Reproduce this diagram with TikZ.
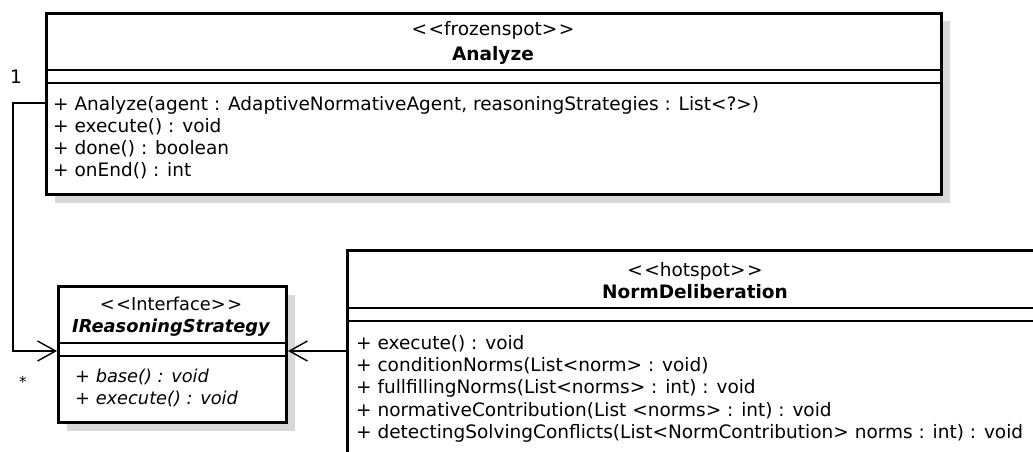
\documentclass[tikz,border=0pt]{standalone}
\usepackage{fontspec}
\setmainfont{DejaVu Sans}
\usetikzlibrary{arrows.meta,shadows}
\definecolor{shadowgray}{RGB}{216,216,216}
\newcommand\guil[1]{<\kern1.5pt<#1>\kern1.5pt>}
\tikzset{
  classbox/.style={draw=black, line width=3pt, fill=white, inner sep=0pt,
    anchor=north west,
    drop shadow={shadow xshift=8pt, shadow yshift=-8pt, fill=shadowgray, opacity=1}},
  sep/.style={line width=1.4pt},
  txt/.style={inner sep=0pt, font=\fontsize{18.5}{22}\selectfont},
  member/.style={txt, anchor=base west},
  caption/.style={txt, anchor=base},
  ifacetxt/.style={inner sep=0pt, font=\fontsize{17.8}{22}\selectfont},
  assoc/.style={line width=1.4pt,
    -{Straight Barb[length=18pt,width=20pt,line width=1.4pt]}},
  mult/.style={txt, anchor=center},
}
\begin{document}
\begin{tikzpicture}[x=1pt,y=-1pt]
\useasboundingbox (0,0) rectangle (1033,452);
\clip (0,0) rectangle (1033,452);

% class boxes
\node[classbox, minimum width=895pt, minimum height=181pt] (analyze) at (45,12) {};
\node[classbox, minimum width=228pt, minimum height=136pt] (irs) at (57,285) {};
\node[classbox, minimum width=700pt, minimum height=222pt] (nd) at (346,249) {};

% compartment separators
\foreach \y in {70,83} \draw[sep] (analyze.west |- 0,\y) -- (analyze.east |- 0,\y);
\foreach \y in {343,356} \draw[sep] (irs.west |- 0,\y) -- (irs.east |- 0,\y);
\foreach \y in {308,321} \draw[sep] (nd.west |- 0,\y) -- (nd.east |- 0,\y);

% Analyze
\node[caption] (an-st) at (493,36) {\guil{frozenspot}};
\node[caption, font=\fontsize{18.5}{22}\selectfont\bfseries] (an-nm) at (493,60) {Analyze};
\node[member] (an-m1) at (53,110) {+ Analyze(agent : AdaptiveNormativeAgent, reasoningStrategies : List<?>)};
\node[member] (an-m2) at (53,132) {+ execute() : void};
\node[member] (an-m3) at (53,154) {+ done() : boolean};
\node[member] (an-m4) at (53,176) {+ onEnd() : int};

% IReasoningStrategy
\node[ifacetxt, anchor=base] (ir-st) at (171,310) {\guil{Interface}};
\node[ifacetxt, anchor=base, font=\fontsize{17.8}{22}\selectfont\bfseries\itshape] (ir-nm) at (171,332) {IReasoningStrategy};
\node[ifacetxt, anchor=base west, font=\fontsize{17.8}{22}\selectfont\itshape] (ir-m1) at (75,382) {+ base() : void};
\node[ifacetxt, anchor=base west, font=\fontsize{17.8}{22}\selectfont\itshape] (ir-m2) at (75,404) {+ execute() : void};

% NormDeliberation
\node[caption] (nd-st) at (695,276) {\guil{hotspot}};
\node[caption, font=\fontsize{18.5}{22}\selectfont\bfseries] (nd-nm) at (695,298) {NormDeliberation};
\node[member] (nd-m1) at (356,349) {+ execute() : void};
\node[member] (nd-m2) at (356,371) {+ conditionNorms(List<norm> : void)};
\node[member] (nd-m3) at (356,393) {+ fullfillingNorms(List<norms> : int) : void};
\node[member] (nd-m4) at (356,416) {+ normativeContribution(List <norms> : int) : void};
\node[member] (nd-m5) at (356,438) {+ detectingSolvingConflicts(List<NormContribution> norms : int) : void};

% associations
\coordinate (bend) at (13,351);
\draw[assoc] (analyze.west |- 0,103) -| (bend) -- (irs.west |- bend);
\draw[assoc] (nd.west |- 0,351) -- (irs.east |- 0,351);

% multiplicities
\node[mult] (m-one) at (16,77) {1};
\node[mult, font=\fontsize{15}{18}\selectfont] (m-many) at (23,382) {*};
\end{tikzpicture}
\end{document}
